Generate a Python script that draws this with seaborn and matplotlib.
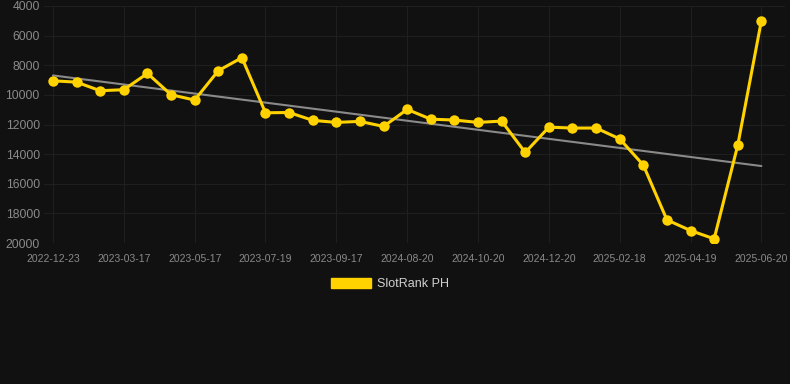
import matplotlib
matplotlib.use("Agg")
import matplotlib.pyplot as plt
from matplotlib.patches import Patch
import numpy as np
import pandas as pd
import seaborn as sns

dates = ["2022-12-23", "d1", "d2", "2023-03-17", "d4", "d5", "2023-05-17", "d7", "d8",
         "2023-07-19", "d10", "d11", "2023-09-17", "d13", "d14", "2024-08-20", "d16", "d17",
         "2024-10-20", "d19", "d20", "2024-12-20", "d22", "d23", "2025-02-18", "d25", "d26",
         "2025-04-19", "d28", "d29", "2025-06-20"]
ranks = [9050, 9140, 9720, 9650, 8550, 9990, 10350, 8370, 7490, 11210, 11190, 11720,
         11860, 11790, 12130, 10980, 11640, 11700, 11860, 11770, 13890, 12180, 12240,
         12240, 12970, 14740, 18440, 19160, 19720, 13390, 4990]
tick_labels = ["2022-12-23", "2023-03-17", "2023-05-17", "2023-07-19", "2023-09-17",
               "2024-08-20", "2024-10-20", "2024-12-20", "2025-02-18", "2025-04-19",
               "2025-06-20"]
y_ticks = [4000, 6000, 8000, 10000, 12000, 14000, 16000, 18000, 20000]
series_name = "SlotRank PH"

bg = "#111111"
gold = "#FFD200"
df = pd.DataFrame({"idx": np.arange(len(ranks)), "rank": ranks})

sns.set_theme(style="dark")
plt.rcParams["font.family"] = ["Liberation Sans", "DejaVu Sans"]

fig = plt.figure(figsize=(7.9, 3.84), dpi=100, facecolor=bg)
ax = fig.add_axes([44 / 790, 1 - 243 / 384, (785 - 44) / 790, (243 - 6) / 384])
ax.set_facecolor(bg)

# trend line
coef = np.polyfit(df["idx"], df["rank"], 1)
trend = np.polyval(coef, df["idx"])
ax.plot(df["idx"], trend, color="#8a8a8a", lw=1.5, zorder=2)

sns.lineplot(data=df, x="idx", y="rank", ax=ax, color=gold, lw=2.2, marker="o",
             markersize=7.5, markeredgewidth=0, zorder=3)

ax.set_ylim(20000, 4000)
ax.set_xlim(-0.38, 31.0)
tick_pos = [dates.index(t) for t in tick_labels]
ax.set_xticks(tick_pos)
ax.set_xticklabels(tick_labels)
ax.set_yticks(y_ticks)
ax.set_yticklabels([str(v) for v in y_ticks])
ax.grid(True, color="#1f1f1f", lw=0.8)
ax.set_axisbelow(True)
for s in ax.spines.values():
    s.set_visible(False)
ax.tick_params(axis="both", colors="#8a8a8a", length=0)
ax.tick_params(axis="x", labelsize=7.5, pad=8)
ax.tick_params(axis="y", labelsize=8.8, pad=3)
ax.set_xlabel("")
ax.set_ylabel("")

fig.legend(handles=[Patch(facecolor=gold, edgecolor=gold, label=series_name)],
           loc="center", bbox_to_anchor=(390 / 790, 1 - 284 / 384), frameon=False,
           fontsize=9, labelcolor="#d0d0d0", handlelength=3.25, handleheight=0.9,
           handletextpad=0.5)

fig.savefig("out.png", dpi=100, facecolor=bg)
